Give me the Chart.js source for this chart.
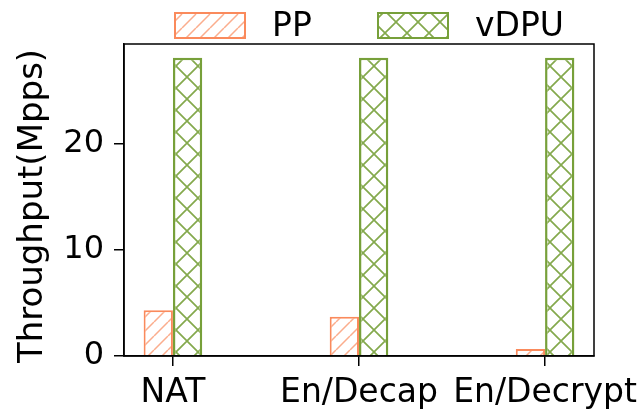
<!DOCTYPE html>
<html>
<head>
<meta charset="utf-8">
<script src="https://cdn.jsdelivr.net/npm/chart.js@4"></script>
<style>
    html, body { margin: 0; padding: 0; background: #fff; }
    #wrap { width: 644px; height: 410px; }
</style>
</head>
<body>
<div id="wrap"><canvas id="chart" width="644" height="410"></canvas></div>
<script>
// Chart data
const categories = ['NAT', 'En/Decap', 'En/Decrypt'];
const ppValues = [4.3, 3.7, 0.65];
const vdpuValues = [28.1, 28.1, 28.1];
const yTicks = [0, 10, 20];
const yTitle = 'Throughput(Mpps)';

const FONT = "'DejaVu Sans', sans-serif";
const ORANGE = '#fa8a5c';
const GREEN = '#77a03a';

// hatch patterns like matplotlib's '//' and 'xx'
function makeHatch(kind, color, size, alpha, width) {
    const c = document.createElement('canvas');
    c.width = size;
    c.height = size;
    const g = c.getContext('2d');
    g.fillStyle = '#fff';
    g.fillRect(0, 0, size, size);
    g.strokeStyle = color;
    g.globalAlpha = alpha;
    g.lineWidth = width;
    g.beginPath();
    // forward slashes
    for (let k = -1; k <= 1; k++) {
        g.moveTo(k * size, size);
        g.lineTo(k * size + size, 0);
    }
    if (kind === 'x') {
        for (let k = -1; k <= 1; k++) {
            g.moveTo(k * size, 0);
            g.lineTo(k * size + size, size);
        }
    }
    g.stroke();
    return g.createPattern(c, 'repeat');
}

const ctx = document.getElementById('chart');
const ppFill = makeHatch('/', ORANGE, 14, 0.7, 1.5);
const vdpuFill = makeHatch('x', GREEN, 22, 0.9, 1.7);

// legend, y title and outer frame drawn by hand to match the matplotlib look
const framePlugin = {
    id: 'frame',
    afterDraw(chart) {
        const g = chart.ctx;
        const a = chart.chartArea;
        g.save();
        g.strokeStyle = '#000';
        g.lineWidth = 1.5;
        g.strokeRect(a.left, a.top, a.right - a.left, a.bottom - a.top);

        const items = [
            { label: 'PP', fill: ppFill, edge: ORANGE, x: 175 },
            { label: 'vDPU', fill: vdpuFill, edge: GREEN, x: 378 }
        ];
        items.forEach(it => {
            g.fillStyle = it.fill;
            g.fillRect(it.x, 13, 70, 25);
            g.strokeStyle = it.edge;
            g.lineWidth = 2;
            g.strokeRect(it.x, 13, 70, 25);
            g.fillStyle = '#000';
            g.font = '33px ' + FONT;
            g.textBaseline = 'middle';
            g.textAlign = 'left';
            g.fillText(it.label, it.x + 97, 27);
        });

        g.translate(33, 206);
        g.rotate(-Math.PI / 2);
        g.font = '34px ' + FONT;
        g.textAlign = 'center';
        g.textBaseline = 'middle';
        g.fillStyle = '#000';
        g.fillText(yTitle, 0, 0);
        g.restore();
    }
};

new Chart(ctx, {
    type: 'bar',
    data: {
        datasets: [{
            label: 'PP',
            data: categories.map((c, i) => ({ x: i, y: ppValues[i] })),
            backgroundColor: ppFill,
            borderColor: ORANGE,
            borderWidth: 2
        }, {
            label: 'vDPU',
            data: categories.map((c, i) => ({ x: i, y: vdpuValues[i] })),
            backgroundColor: vdpuFill,
            borderColor: GREEN,
            borderWidth: 2.5
        }]
    },
    options: {
        responsive: false,
        animation: false,
        layout: { padding: { top: 44, right: 50, left: 0, bottom: 0 } },
        datasets: {
            bar: { barPercentage: 1, categoryPercentage: 0.315 }
        },
        scales: {
            x: {
                type: 'linear',
                min: -0.263,
                max: 2.263,
                offset: false,
                afterFit(scale) {
                    scale.height = 54;
                    scale.paddingLeft = 0;
                    scale.paddingRight = 0;
                },
                border: { display: true, color: '#000', width: 1.5 },
                grid: { offset: false, drawOnChartArea: false, drawTicks: true, tickLength: 10, color: '#000', lineWidth: 1.5 },
                afterBuildTicks(scale) { scale.ticks = categories.map((c, i) => ({ value: i })); },
                ticks: {
                    autoSkip: false,
                    maxRotation: 0,
                    padding: 8,
                    color: '#000',
                    font: { family: FONT, size: 33 },
                    callback: v => categories[v] ?? ''
                }
            },
            y: {
                min: 0,
                max: 29.4,
                afterFit(scale) { scale.width = 124; },
                border: { display: true, color: '#000', width: 1.5 },
                grid: { drawOnChartArea: false, drawTicks: true, tickLength: 10, color: '#000', lineWidth: 1.5 },
                afterBuildTicks(scale) { scale.ticks = yTicks.map(v => ({ value: v })); },
                ticks: {
                    padding: 10,
                    color: '#000',
                    font: { family: FONT, size: 32 }
                }
            }
        },
        plugins: {
            legend: { display: false },
            tooltip: { enabled: false }
        }
    },
    plugins: [framePlugin]
});
</script>
</body>
</html>
